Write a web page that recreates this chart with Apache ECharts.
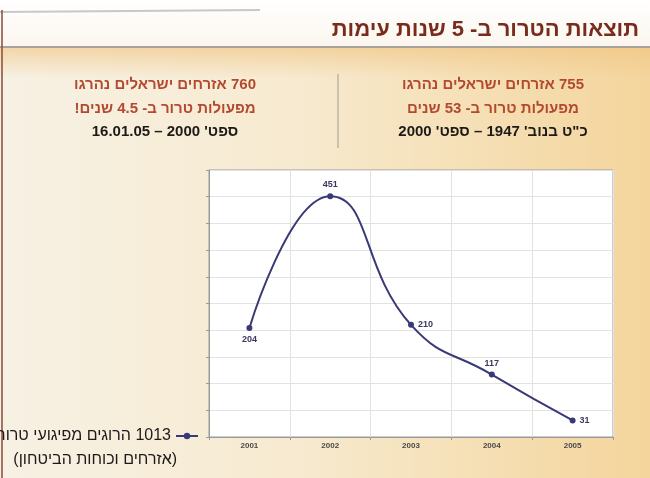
<!DOCTYPE html>
<html>
<head>
<meta charset="utf-8">
<script src="https://cdn.jsdelivr.net/npm/echarts@6/dist/echarts.min.js"></script>
<style>
  html, body { margin: 0; padding: 0; }
  #chart { width: 650px; height: 478px; }
</style>
</head>
<body>
<div id="chart" dir="rtl"></div>
<script>
// שנים ומספר הרוגים
var years = ['2001', '2002', '2003', '2004', '2005'];
var killed = [204, 451, 210, 117, 31];
var seriesName = '1013 הרוגים מפיגועי טרור';
var labelPos = ['bottom', 'top', 'right', 'top', 'right'];

var font = '"Liberation Sans", Arial, "DejaVu Sans", sans-serif';
var navy = '#3a3978';

var myChart = echarts.init(document.getElementById('chart'));

var option = {
    animation: false,
    backgroundColor: {
        type: 'linear', x: 0, y: 0, x2: 1, y2: 0,
        colorStops: [
            {offset: 0, color: '#f7f1e4'},
            {offset: 0.45, color: '#f7ead0'},
            {offset: 1, color: '#f4d59c'}
        ]
    },
    textStyle: {fontFamily: font},
    graphic: [
        // פס כותרת
        {type: 'rect', shape: {x: 0, y: 0, width: 650, height: 48},
            style: {fill: {type: 'linear', x: 0, y: 0, x2: 0, y2: 1,
                colorStops: [{offset: 0, color: '#ffffff'}, {offset: 1, color: '#fbf6ee'}]}}},
        {type: 'rect', shape: {x: 0, y: 48, width: 650, height: 30},
            style: {fill: {type: 'linear', x: 0, y: 0, x2: 0, y2: 1,
                colorStops: [{offset: 0, color: 'rgba(240,196,130,0.6)'}, {offset: 1, color: 'rgba(240,196,130,0)'}]}}},
        {type: 'line', shape: {x1: 0, y1: 12, x2: 260, y2: 10},
            style: {stroke: '#c8c8c8', lineWidth: 2}},
        {type: 'line', shape: {x1: 0, y1: 47, x2: 650, y2: 47},
            style: {stroke: '#a8a29a', lineWidth: 2}},
        {type: 'line', shape: {x1: 2, y1: 10, x2: 2, y2: 478},
            style: {stroke: '#8a4a3a', lineWidth: 1.5}},
        {type: 'text', right: 11, top: 19,
            style: {text: 'תוצאות הטרור ב- 5 שנות עימות', font: 'bold 22px ' + font, fill: '#7a2c1c'}},
        // מחיצה
        {type: 'line', shape: {x1: 338, y1: 74, x2: 338, y2: 148},
            style: {stroke: '#a09a90', lineWidth: 1}},
        // בלוק שמאלי
        {type: 'text', x: 165, y: 85,
            style: {text: '760 אזרחים ישראלים נהרגו', font: 'bold 15px ' + font, fill: '#b34a30', align: 'center', verticalAlign: 'middle'}},
        {type: 'text', x: 165, y: 109,
            style: {text: 'מפעולות טרור ב- 4.5 שנים!', font: 'bold 15px ' + font, fill: '#b34a30', align: 'center', verticalAlign: 'middle'}},
        {type: 'text', x: 165, y: 132,
            style: {text: 'ספט\' 2000 – 16.01.05', font: 'bold 15px ' + font, fill: '#1e1a18', align: 'center', verticalAlign: 'middle'}},
        // בלוק ימני
        {type: 'text', x: 493, y: 85,
            style: {text: '755 אזרחים ישראלים נהרגו', font: 'bold 15px ' + font, fill: '#b34a30', align: 'center', verticalAlign: 'middle'}},
        {type: 'text', x: 493, y: 109,
            style: {text: 'מפעולות טרור ב- 53 שנים', font: 'bold 15px ' + font, fill: '#b34a30', align: 'center', verticalAlign: 'middle'}},
        {type: 'text', x: 493, y: 132,
            style: {text: 'כ"ט בנוב\' 1947 – ספט\' 2000', font: 'bold 15px ' + font, fill: '#1e1a18', align: 'center', verticalAlign: 'middle'}},
        // שורה שנייה של המקרא
        {type: 'text', x: 177, y: 460,
            style: {text: '(אזרחים וכוחות הביטחון)', font: '16px ' + font, fill: '#1e1a18', align: 'right', verticalAlign: 'middle'}}
    ],
    legend: {
        right: 446,
        top: 423,
        align: 'right',
        itemWidth: 22,
        itemHeight: 8,
        itemGap: 5,
        textStyle: {fontSize: 16, color: '#1e1a18', fontFamily: font},
        data: [seriesName]
    },
    grid: {
        left: 209,
        top: 170,
        right: 37,
        bottom: 41,
        show: true,
        backgroundColor: '#ffffff',
        borderColor: '#9a9a9a',
        borderWidth: 1
    },
    xAxis: {
        type: 'category',
        data: years,
        axisLine: {lineStyle: {color: '#9a9a9a'}},
        axisTick: {show: true, length: 3, lineStyle: {color: '#9a9a9a'}},
        axisLabel: {fontSize: 8, fontWeight: 'bold', color: '#4a4a4a', margin: 5},
        splitLine: {show: true, lineStyle: {color: '#e2e2e2'}}
    },
    yAxis: {
        type: 'value',
        min: 0,
        max: 500,
        interval: 50,
        axisLine: {show: true, lineStyle: {color: '#9a9a9a'}},
        axisTick: {show: true, length: 3, lineStyle: {color: '#9a9a9a'}},
        axisLabel: {show: false},
        splitLine: {lineStyle: {color: '#e2e2e2'}}
    },
    series: [{
        name: seriesName,
        type: 'line',
        smooth: 0.5,
        symbol: 'circle',
        symbolSize: 6,
        color: navy,
        lineStyle: {width: 2, color: navy},
        label: {show: true, fontSize: 9, fontWeight: 'bold', color: '#3a3a60', distance: 4},
        data: killed.map(function (v, i) {
            return {value: v, label: {position: labelPos[i]}};
        })
    }]
};

myChart.setOption(option);
</script>
</body>
</html>
